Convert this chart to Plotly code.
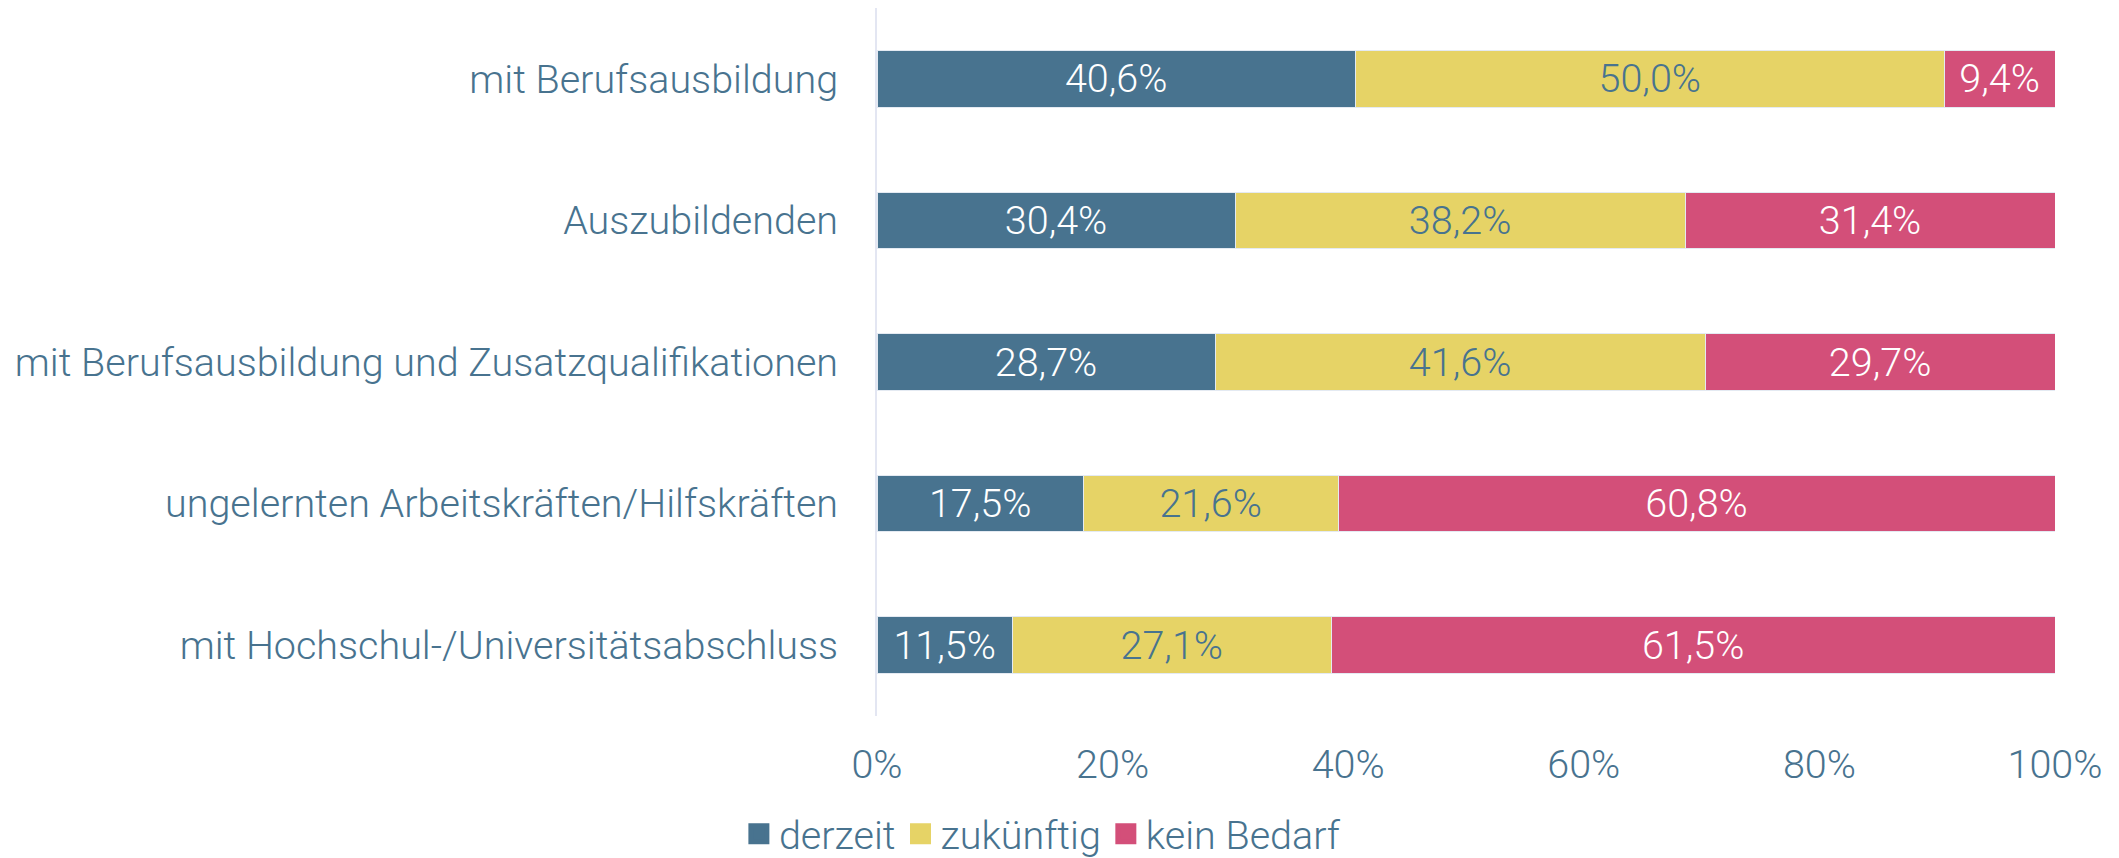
import plotly.graph_objects as go

categories = [
    "mit Berufsausbildung",
    "Auszubildenden",
    "mit Berufsausbildung und Zusatzqualifikationen",
    "ungelernten Arbeitskräften/Hilfskräften",
    "mit Hochschul-/Universitätsabschluss",
]
series_names = ["derzeit", "zukünftig", "kein Bedarf"]
derzeit = [40.6, 30.4, 28.7, 17.5, 11.5]
zukuenftig = [50.0, 38.2, 41.6, 21.6, 27.1]
kein_bedarf = [9.4, 31.4, 29.7, 60.8, 61.5]
tick_vals = [0, 20, 40, 60, 80, 100]
tick_text = ["0%", "20%", "40%", "60%", "80%", "100%"]

colors = ["#48738F", "#E6D366", "#D34F79"]
text_colors = ["#FFFFFF", "#48738F", "#FFFFFF"]
font_color = "#48738F"
FONT = "Roboto"
FS = 39.5
W, H = 2111, 850  # page body has an 8px margin


def fmt(v):
    return f"{v:.1f}".replace(".", ",") + "%"


fig = go.Figure()
for name, vals, col, tcol in zip(series_names, [derzeit, zukuenftig, kein_bedarf], colors, text_colors):
    fig.add_trace(go.Bar(
        y=categories, x=vals, name=name, orientation="h",
        marker=dict(color=col, line=dict(color="#E4EAF2", width=1)),
        text=[fmt(v) for v in vals], textposition="inside",
        insidetextanchor="middle", textangle=0,
        textfont=dict(color=tcol, size=FS, family=FONT, weight=300),
        showlegend=False, hoverinfo="skip",
    ))
    fig.add_trace(go.Scatter(
        x=[None], y=[None], mode="markers", name=name,
        marker=dict(symbol="square", size=16, color=col, line=dict(color=col, width=5)),
        showlegend=True,
    ))

fig.update_layout(
    barmode="stack", barnorm="percent", bargap=0.6,
    width=W, height=H,
    margin=dict(l=869, r=64, t=0, b=142),
    paper_bgcolor="white", plot_bgcolor="white",
    font=dict(family=FONT, size=FS, color=font_color, weight=300),
    legend=dict(
        orientation="h", xref="container", yref="container", traceorder="normal",
        x=0.49, xanchor="center", y=1 - 826 / H, yanchor="middle",
        font=dict(size=FS, color=font_color, family=FONT, weight=300),
        itemsizing="trace",
    ),
    xaxis=dict(
        range=[0, 100], tickvals=tick_vals, ticktext=tick_text,
        showgrid=False, zeroline=False, showline=False,
        ticklabelstandoff=21, tickfont=dict(size=FS, color=font_color),
    ),
    yaxis=dict(
        categoryorder="array", categoryarray=categories, autorange="reversed",
        showgrid=False, zeroline=False, showline=True, linecolor="#E3E6F2", linewidth=2,
        ticklabelstandoff=29, tickfont=dict(size=FS, color=font_color),
    ),
)

fig.write_html("out.html")
